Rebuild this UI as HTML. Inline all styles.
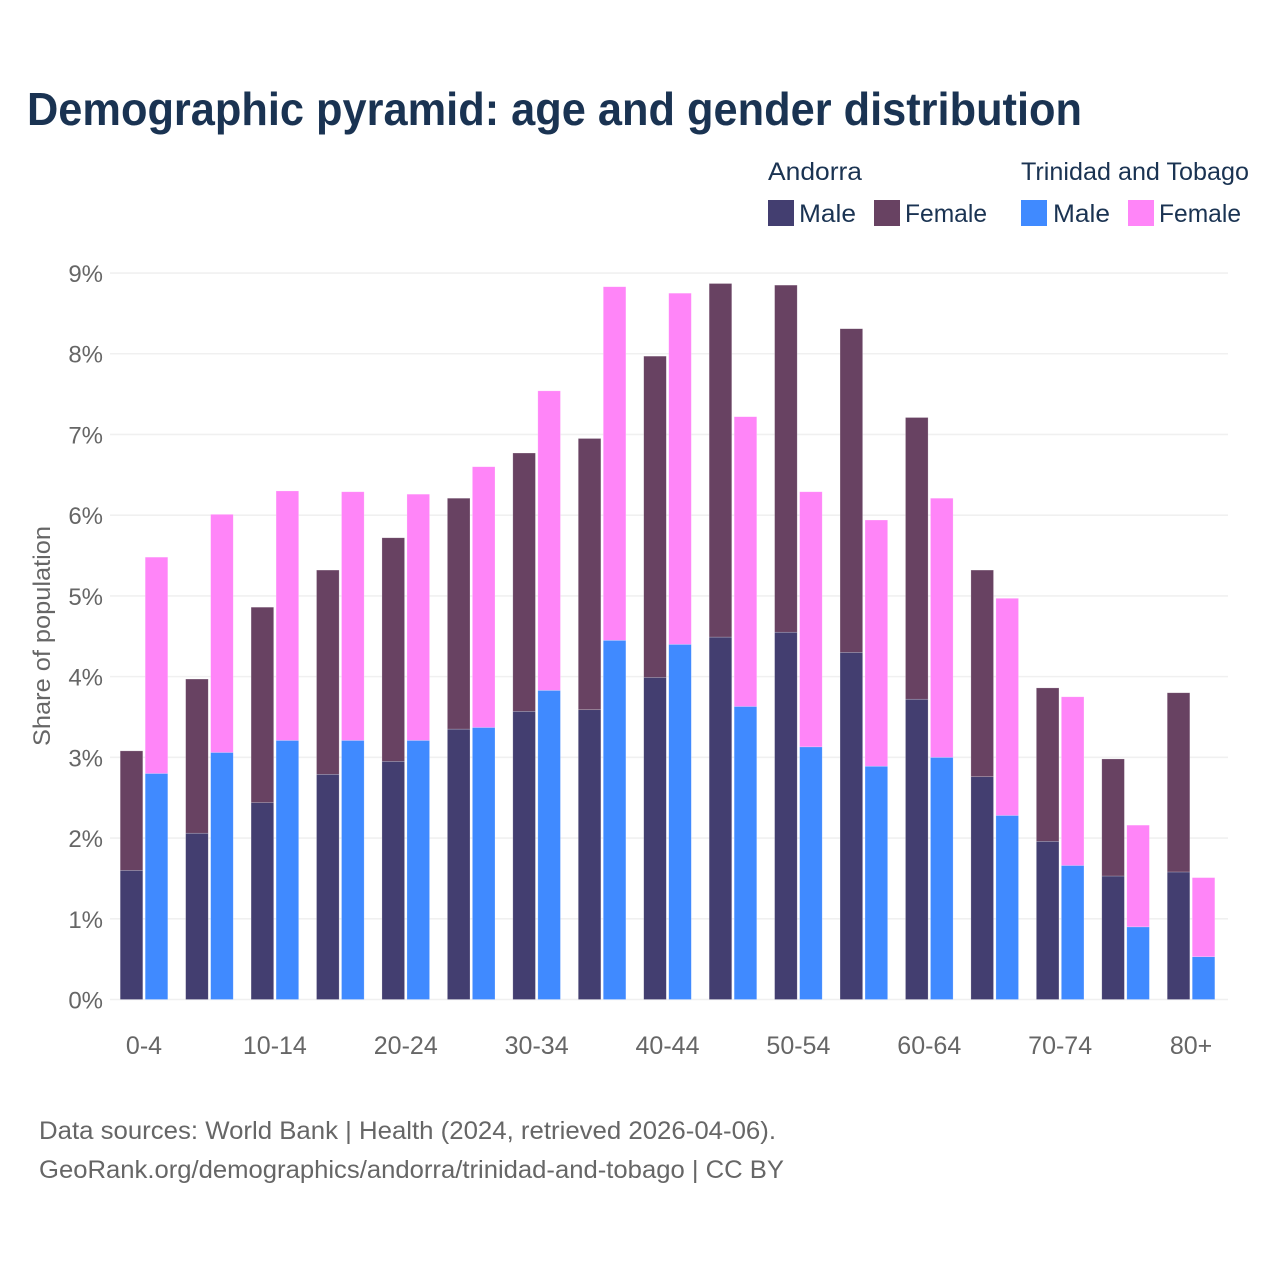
<!DOCTYPE html>
<html lang="en">
<head>
<meta charset="utf-8">
<title>Demographic pyramid</title>
<style>
html,body{margin:0;padding:0;background:#fff}
svg{display:block}
text{font-family:"Liberation Sans",Arial,sans-serif}
</style>
</head>
<body>
<svg id="chart" xmlns="http://www.w3.org/2000/svg" width="1280" height="1280" viewBox="0 0 1280 1280">
  <rect x="0" y="0" width="1280" height="1280" fill="#ffffff"/>
  <text x="27" y="125" font-size="46" font-weight="700" fill="#1a3352" textLength="1055" lengthAdjust="spacingAndGlyphs">Demographic pyramid: age and gender distribution</text>

  <g font-size="25" fill="#1a3352">
    <text x="768" y="180" textLength="94" lengthAdjust="spacingAndGlyphs">Andorra</text>
    <text x="1021" y="180" textLength="228" lengthAdjust="spacingAndGlyphs">Trinidad and Tobago</text>
    <rect x="768" y="200" width="26" height="26" fill="#433e70"/>
    <text x="799" y="222" textLength="57" lengthAdjust="spacingAndGlyphs">Male</text>
    <rect x="874" y="200" width="26" height="26" fill="#684262"/>
    <text x="905" y="222" textLength="82" lengthAdjust="spacingAndGlyphs">Female</text>
    <rect x="1021" y="200" width="26" height="26" fill="#408aff"/>
    <text x="1053" y="222" textLength="57" lengthAdjust="spacingAndGlyphs">Male</text>
    <rect x="1128" y="200" width="26" height="26" fill="#ff85f8"/>
    <text x="1159" y="222" textLength="82" lengthAdjust="spacingAndGlyphs">Female</text>
  </g>

  <text transform="translate(50,636) rotate(-90)" text-anchor="middle" font-size="24" fill="#666666" textLength="220" lengthAdjust="spacingAndGlyphs">Share of population</text>

  <g id="grid"></g>
  <g id="yticks"></g>
  <g id="bars"></g>
  <g id="xticks"></g>

  <text x="39" y="1139" font-size="25" fill="#666666" textLength="737" lengthAdjust="spacingAndGlyphs">Data sources: World Bank | Health (2024, retrieved 2026-04-06).</text>
  <text x="39" y="1178" font-size="25" fill="#666666" textLength="745" lengthAdjust="spacingAndGlyphs">GeoRank.org/demographics/andorra/trinidad-and-tobago | CC BY</text>
</svg>
<script>
const ageGroups = ['0-4','5-9','10-14','15-19','20-24','25-29','30-34','35-39','40-44','45-49','50-54','55-59','60-64','65-69','70-74','75-79','80+'];
const xTickLabels = ['0-4','10-14','20-24','30-34','40-44','50-54','60-64','70-74','80+'];
const yTickValues = [0,1,2,3,4,5,6,7,8,9];
const andorraMale = [1.60,2.06,2.44,2.79,2.95,3.35,3.57,3.59,3.99,4.49,4.55,4.30,3.72,2.76,1.96,1.53,1.58];
const andorraFemale = [1.48,1.91,2.42,2.53,2.77,2.86,3.20,3.36,3.98,4.38,4.30,4.01,3.49,2.56,1.90,1.45,2.22];
const trinidadMale = [2.80,3.06,3.21,3.21,3.21,3.37,3.83,4.45,4.40,3.63,3.13,2.89,3.00,2.28,1.66,0.90,0.53];
const trinidadFemale = [2.68,2.95,3.09,3.08,3.05,3.23,3.71,4.38,4.35,3.59,3.16,3.05,3.21,2.69,2.09,1.26,0.98];

const NS = 'http://www.w3.org/2000/svg';
const plotLeft = 110, plotRight = 1228, plotBottom = 999.5, pxPerPercent = 80.72;
const groupStart = 120.2, groupStep = 65.44, barWidth = 22.6, barGap = 2.4;

function yScale(v) { return plotBottom - v * pxPerPercent; }
function groupX(i) { return groupStart + i * groupStep; }
function groupCenter(i) { return groupX(i) + barWidth + barGap / 2; }

const gridLayer = document.getElementById('grid');
const yTickLayer = document.getElementById('yticks');
yTickValues.forEach(function (v) {
  const line = document.createElementNS(NS, 'line');
  
  
  line.setAttribute('x1', plotLeft);
  line.setAttribute('x2', plotRight);
  line.setAttribute('y1', yScale(v));
  line.setAttribute('y2', yScale(v));
  line.setAttribute('stroke', '#f0f0f0');
  line.setAttribute('stroke-width', '1.6');
  gridLayer.appendChild(line);

  const label = document.createElementNS(NS, 'text');
  
  
  label.setAttribute('x', 103);
  label.setAttribute('y', yScale(v) + 9);
  label.setAttribute('text-anchor', 'end');
  label.setAttribute('font-size', '24');
  label.setAttribute('fill', '#666666');
  label.textContent = v + '%';
  yTickLayer.appendChild(label);
});

const barLayer = document.getElementById('bars');
function drawBar(x, base, value, color, stroke) {
  const rect = document.createElementNS(NS, 'rect');
  
  
  rect.setAttribute('x', x);
  rect.setAttribute('y', yScale(base + value));
  rect.setAttribute('width', barWidth);
  rect.setAttribute('height', yScale(base) - yScale(base + value));
  rect.setAttribute('fill', color);
  rect.setAttribute('stroke', stroke);
  rect.setAttribute('stroke-width', '0.6');
  barLayer.appendChild(rect);
}
ageGroups.forEach(function (group, i) {
  const x1 = groupX(i);
  const x2 = x1 + barWidth + barGap;
  drawBar(x1, 0, andorraMale[i], '#433e70', 'rgba(255,255,255,0.35)');
  drawBar(x1, andorraMale[i], andorraFemale[i], '#684262', 'rgba(255,255,255,0.35)');
  drawBar(x2, 0, trinidadMale[i], '#408aff', 'rgba(255,255,255,0.35)');
  drawBar(x2, trinidadMale[i], trinidadFemale[i], '#ff85f8', 'rgba(255,255,255,0.35)');
});

const xTickLayer = document.getElementById('xticks');
xTickLabels.forEach(function (name) {
  const label = document.createElementNS(NS, 'text');
  
  
  label.setAttribute('x', groupCenter(ageGroups.indexOf(name)));
  label.setAttribute('y', 1054);
  label.setAttribute('text-anchor', 'middle');
  label.setAttribute('font-size', '25');
  label.setAttribute('fill', '#666666');
  label.textContent = name;
  xTickLayer.appendChild(label);
});
</script>
</body>
</html>
